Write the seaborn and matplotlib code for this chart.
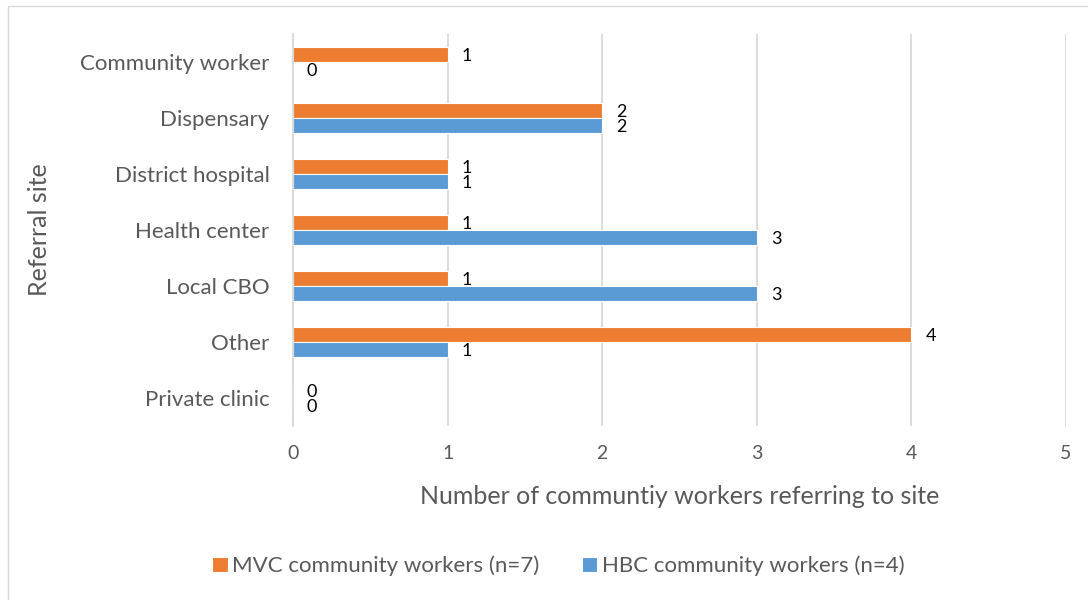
import matplotlib
matplotlib.use("Agg")
import matplotlib.pyplot as plt
import seaborn as sns
import pandas as pd
from matplotlib.patches import Rectangle

sites = ["Community worker", "Dispensary", "District hospital", "Health center",
         "Local CBO", "Other", "Private clinic"]
mvc_counts = [1, 2, 1, 1, 1, 4, 0]
hbc_counts = [0, 2, 1, 3, 3, 1, 0]
series_names = ["MVC community workers (n=7)", "HBC community workers (n=4)"]
x_ticks = [0, 1, 2, 3, 4, 5]

df = pd.DataFrame({
    "site": sites * 2,
    "count": mvc_counts + hbc_counts,
    "group": [series_names[0]] * len(sites) + [series_names[1]] * len(sites),
})

sns.set_theme(style="white")
plt.rcParams["font.family"] = ["Lato", "DejaVu Sans"]

text_grey = "#595959"
colors = {series_names[0]: "#ED7D31", series_names[1]: "#5B9BD5"}

fig = plt.figure(figsize=(10.88, 6.0), dpi=100)
ax = fig.add_axes([0.2693, 0.29, 0.9798 - 0.2693, 0.943 - 0.29])

sns.barplot(data=df, y="site", x="count", hue="group", hue_order=series_names,
            order=sites, palette=colors, saturation=1, orient="h", width=0.54,
            gap=0, edgecolor="white", linewidth=0.8, ax=ax, legend=True)

for cont in ax.containers:
    texts = ax.bar_label(cont, labels=[f"{int(v)}" for v in cont.datavalues],
                         padding=10, fontsize=13, color="black")
    for t in texts:
        t.set_verticalalignment("center_baseline")

ax.set_xlim(0, 5)
ax.set_xticks(x_ticks)
ax.set_xticklabels([str(t) for t in x_ticks], fontsize=14, color=text_grey)
ax.tick_params(axis="x", length=0, pad=14)
ax.tick_params(axis="y", length=0, pad=17, labelsize=16, labelcolor=text_grey)
for lbl in ax.get_yticklabels():
    lbl.set_color(text_grey)

ax.grid(axis="x", color="#D9D9D9", linewidth=1.3)
ax.set_axisbelow(True)
for side in ["top", "right", "bottom"]:
    ax.spines[side].set_visible(False)
ax.spines["left"].set_color("#D9D9D9")
ax.spines["left"].set_linewidth(1.3)

ax.set_xlabel("Number of communtiy workers referring to site", fontsize=18,
              color=text_grey, labelpad=16)
ax.set_ylabel("Referral site", fontsize=18, color=text_grey, labelpad=21)

handles, labels = ax.get_legend_handles_labels()
ax.legend_.remove()
fig.legend(handles, labels, loc="center", bbox_to_anchor=(0.513, 0.057),
           ncol=2, frameon=False, fontsize=16, handlelength=0.7,
           handleheight=0.7, handletextpad=0.2, columnspacing=1.9,
           labelcolor=text_grey)

fig.patches.append(Rectangle((8 / 1088, -0.01), 1.0, 1.0 - 6 / 600 + 0.01,
                             transform=fig.transFigure, fill=False,
                             edgecolor="#D9D9D9", linewidth=1.0))

fig.savefig("out.png", dpi=100, facecolor="white")
